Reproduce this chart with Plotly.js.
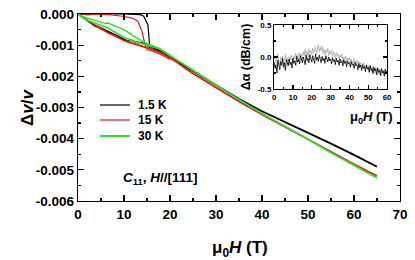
<!DOCTYPE html>
<html><head><meta charset="utf-8">
<script src="https://cdn.plot.ly/plotly-3.0.1.min.js"></script>
<style>html,body{margin:0;padding:0;background:#fff}</style>
</head><body><div id="plot" style="width:415px;height:260px"></div>
<script>
// ---- main panel data: field (T) and Δv/v ----
const seriesNames = ['1.5 K', '15 K', '30 K'];
const seriesColors = ['#000000', '#ee1111', '#2ee02e'];

const h_black_up = [0, 2, 5, 8, 10, 12, 13.5, 14.3, 14.8, 15.2, 15.4, 15.6, 16, 17, 18, 20];
const v_black_up = [0, -0.00002, 0, 0.00001, 0, -0.00001, -0.00002, -0.00007, -0.0002, -0.00035, -0.0007, -0.0011, -0.00113, -0.00117, -0.00124, -0.0014];
const h_black_dn = [0, 0.5, 1, 2, 3, 3.7, 5, 6.5, 8, 9, 10.2, 10.9, 11.3, 12.5, 13.9, 15, 16, 17.4, 18.5, 20, 25, 30, 35, 40, 45, 50, 55, 60, 65];
const v_black_dn = [0, -0.00005, -0.0001, -0.0002, -0.00031, -0.00038, -0.00045, -0.00055, -0.00066, -0.00074, -0.00083, -0.00089, -0.00083, -0.0009, -0.00093, -0.001, -0.00107, -0.00115, -0.00125, -0.00138, -0.00183, -0.00228, -0.00273, -0.00312, -0.00346, -0.0038, -0.00416, -0.00452, -0.0049];

const h_red_up = [0, 3, 7, 10, 11.8, 13, 13.9, 14.6, 15, 16, 18, 20];
const v_red_up = [0, -0.00001, -0.00002, -0.00008, -0.00013, -0.00023, -0.00055, -0.001, -0.00115, -0.00118, -0.0013, -0.00146];
const h_red_dn = [0, 1, 2, 3, 5, 6.5, 8, 10, 12, 13.9, 16, 18.3, 21, 25, 30, 35, 40, 45, 50, 55, 60, 65];
const v_red_dn = [0, -0.0001, -0.0002, -0.0003, -0.00047, -0.0006, -0.0007, -0.00085, -0.00095, -0.00103, -0.00113, -0.00126, -0.0015, -0.00191, -0.00236, -0.00281, -0.00322, -0.00362, -0.00403, -0.00444, -0.00482, -0.0052];

const h_green_up = [0, 1, 2.5, 3.7, 5, 5.9, 6.5, 7.5, 8.7, 10, 11.8, 13, 13.9, 16, 17.8, 20];
const v_green_up = [0, -0.00008, -0.00015, -0.0002, -0.00026, -0.0003, -0.00029, -0.00035, -0.0004, -0.0005, -0.00068, -0.0008, -0.00087, -0.001, -0.00111, -0.00132];
const h_green_dn = [0, 1, 2, 3.7, 5, 6.5, 8, 10.2, 12, 13.9, 16, 17.8, 20, 25, 30, 35, 40, 45, 50, 55, 60, 65];
const v_green_dn = [0, -0.00012, -0.0002, -0.0003, -0.00037, -0.00045, -0.00058, -0.00077, -0.00087, -0.00095, -0.00103, -0.00112, -0.00133, -0.0018, -0.00228, -0.00275, -0.00319, -0.0036, -0.00402, -0.00445, -0.00485, -0.00526];

const yTickVals = [0, -0.001, -0.002, -0.003, -0.004, -0.005, -0.006];
const yTickText = ['0.000', '-0.001', '-0.002', '-0.003', '-0.004', '-0.005', '-0.006'];

// ---- inset data: field (T) and Δα (dB/cm) ----
const h_inset = [0,0.5,1,1.5,2,2.5,3,3.5,4,4.5,5,5.5,6,6.5,7,7.5,8,8.5,9,9.5,
  10,10.5,11,11.5,12,12.5,13,13.5,14,14.5,15,15.5,16,16.5,17,17.5,18,18.5,19,19.5,
  20,20.5,21,21.5,22,22.5,23,23.5,24,24.5,25,25.5,26,26.5,27,27.5,28,28.5,29,29.5,
  30,30.5,31,31.5,32,32.5,33,33.5,34,34.5,35,35.5,36,36.5,37,37.5,38,38.5,39,39.5,
  40,40.5,41,41.5,42,42.5,43,43.5,44,44.5,45,45.5,46,46.5,47,47.5,48,48.5,49,49.5,
  50,50.5,51,51.5,52,52.5,53,53.5,54,54.5,55,55.5,56,56.5,57,57.5,58,58.5,59,59.5,60];
const a_black = [
  -0.08,-0.18,-0.12,-0.25,-0.05,-0.15,-0.20,-0.07,-0.13,-0.02,
  -0.16,-0.09,-0.21,-0.04,-0.11,-0.14,-0.03,-0.12,-0.08,-0.17,
  -0.02,-0.10,-0.06,-0.13,0.01,-0.08,-0.04,-0.11,0.02,-0.07,
  -0.09,0.00,-0.05,-0.12,0.03,-0.06,-0.02,-0.09,0.04,-0.04,
  -0.08,0.02,-0.03,-0.10,0.05,-0.05,0.00,-0.07,0.03,-0.04,
  -0.09,0.01,-0.06,-0.02,-0.10,0.02,-0.05,-0.08,0.00,-0.06,
  -0.03,-0.11,-0.01,-0.07,-0.04,-0.12,-0.02,-0.08,-0.05,-0.13,
  -0.03,-0.09,-0.06,-0.14,-0.04,-0.10,-0.07,-0.15,-0.06,-0.11,
  -0.09,-0.16,-0.07,-0.13,-0.11,-0.18,-0.08,-0.14,-0.12,-0.20,
  -0.10,-0.17,-0.13,-0.21,-0.12,-0.18,-0.15,-0.23,-0.13,-0.19,
  -0.16,-0.24,-0.14,-0.21,-0.18,-0.26,-0.16,-0.22,-0.19,-0.28,
  -0.17,-0.24,-0.21,-0.29,-0.18,-0.25,-0.22,-0.30,-0.19,-0.24,
  -0.22];
const a_grey = [
  -0.04,0.03,-0.10,-0.02,0.05,-0.08,-0.13,0.00,-0.06,0.02,
  -0.11,-0.03,0.04,-0.07,-0.01,-0.12,0.01,-0.05,0.03,-0.04,
  -0.08,0.02,-0.03,0.06,-0.02,0.04,-0.06,0.07,0.00,0.05,
  -0.03,0.08,0.02,0.12,0.03,0.09,-0.01,0.13,0.06,0.10,
  0.04,0.14,0.07,0.11,0.16,0.05,0.13,0.19,0.08,0.15,
  0.10,0.17,0.06,0.12,0.03,0.11,0.07,0.14,0.02,0.09,
  0.05,0.11,0.00,0.08,0.04,-0.02,0.07,0.01,0.05,-0.04,
  0.03,-0.01,0.05,-0.06,0.00,-0.03,0.02,-0.08,-0.02,-0.05,
  -0.01,-0.09,-0.03,-0.06,-0.11,-0.02,-0.08,-0.13,-0.05,-0.10,
  -0.07,-0.15,-0.09,-0.12,-0.17,-0.08,-0.14,-0.19,-0.11,-0.16,
  -0.13,-0.20,-0.12,-0.18,-0.23,-0.14,-0.19,-0.25,-0.16,-0.21,
  -0.18,-0.27,-0.20,-0.23,-0.29,-0.19,-0.24,-0.21,-0.28,-0.22,
  -0.25];
const insetColors = ['#000000', '#aaaaaa'];
const insetYVals = [-0.5, 0, 0.5];
const insetYText = ['-0.5', '0.0', '0.5'];

const FONT = 'Liberation Sans, Arial, sans-serif';
function line(x, y, color, name, w) {
  return {x: x, y: y, type: 'scatter', mode: 'lines', name: name,
    showlegend: false, line: {color: color, width: w}, hoverinfo: 'skip'};
}
const traces = [
  line(h_black_up, v_black_up, seriesColors[0], seriesNames[0], 1.2),
  line(h_black_dn, v_black_dn, seriesColors[0], seriesNames[0], 1.8),
  line(h_red_up, v_red_up, seriesColors[1], seriesNames[1], 1.2),
  line(h_red_dn, v_red_dn, seriesColors[1], seriesNames[1], 1.8),
  line(h_green_up, v_green_up, seriesColors[2], seriesNames[2], 1.4),
  line(h_green_dn, v_green_dn, seriesColors[2], seriesNames[2], 1.8),
  {x: h_inset, y: a_grey, xaxis: 'x2', yaxis: 'y2', type: 'scatter', mode: 'lines', showlegend: false,
   line: {color: insetColors[1], width: 0.8}, hoverinfo: 'skip'},
  {x: h_inset, y: a_black, xaxis: 'x2', yaxis: 'y2', type: 'scatter', mode: 'lines', showlegend: false,
   line: {color: insetColors[0], width: 0.8}, hoverinfo: 'skip'}
];

// manual legend (positions in paper coords)
const legX0 = (100 - 78) / 322, legX1 = (130 - 78) / 322, legTX = (136 - 78) / 322;
const legY = [105, 120, 136].map(p => (201 - p) / 187);
const shapes = [], annotations = [];
seriesNames.forEach((n, i) => {
  shapes.push({type: 'line', xref: 'paper', yref: 'paper', x0: legX0, x1: legX1, y0: legY[i], y1: legY[i],
    line: {color: seriesColors[i], width: i === 2 ? 2 : 1.2}});
  annotations.push({xref: 'paper', yref: 'paper', x: legTX, y: legY[i], xanchor: 'left', yanchor: 'middle',
    text: '<b>' + n + '</b>', showarrow: false, font: {family: FONT, size: 12, color: '#000'}});
});
annotations.push({xref: 'paper', yref: 'paper', x: (160 - 78) / 322, y: (201 - 178) / 187, xanchor: 'center', yanchor: 'middle',
  text: '<b><i>C</i><sub>11</sub>, <i>H</i>//[111]</b>', showarrow: false, font: {family: FONT, size: 13.5, color: '#000'}});
annotations.push({xref: 'paper', yref: 'paper', x: (371 - 78) / 322, y: (201 - 117) / 187, xanchor: 'center', yanchor: 'middle',
  text: '<b>μ<sub>0</sub><i>H</i> (T)</b>', showarrow: false, font: {family: FONT, size: 13, color: '#000'}});
// main axis titles
annotations.push({xref: 'paper', yref: 'paper', x: (240 - 78) / 322, y: (201 - 249) / 187, xanchor: 'center', yanchor: 'middle',
  text: '<b>μ<sub>0</sub><i>H</i> (T)</b>', showarrow: false, font: {family: FONT, size: 17, color: '#000'}});
annotations.push({xref: 'paper', yref: 'paper', x: (27 - 78) / 322, y: (201 - 108) / 187, xanchor: 'center', yanchor: 'middle',
  textangle: -90, text: '<b>Δ<i>v</i>/<i>v</i></b>', showarrow: false, font: {family: FONT, size: 17, color: '#000'}});

const axisCommon = {showgrid: false, zeroline: false, showline: true, linecolor: '#000', linewidth: 1.3,
  ticks: 'inside', mirror: 'allticks', tickcolor: '#000', tickwidth: 1.2, fixedrange: true};

const layout = {
  width: 415, height: 260,
  margin: {l: 78, r: 15, t: 14, b: 59},
  paper_bgcolor: '#fff', plot_bgcolor: '#fff',
  font: {family: FONT, color: '#000'},
  showlegend: false,
  xaxis: Object.assign({}, axisCommon, {range: [0, 70], dtick: 10, tick0: 0, ticklen: 6,
    minor: {dtick: 5, ticklen: 3, ticks: 'inside', tickcolor: '#000'},
    tickfont: {family: FONT, size: 13.5, weight: 'bold'}}),
  yaxis: Object.assign({}, axisCommon, {range: [-0.006, 0], tickvals: yTickVals, ticktext: yTickText, ticklen: 6,
    minor: {dtick: 0.0005, ticklen: 3, ticks: 'inside', tickcolor: '#000'},
    tickfont: {family: FONT, size: 13.5, weight: 'bold'}}),
  xaxis2: Object.assign({}, axisCommon, {domain: [0.609, 0.960], anchor: 'y2', range: [0, 60], dtick: 10, tick0: 0,
    ticklen: 4, linewidth: 1, minor: {dtick: 5, ticklen: 2, ticks: 'inside', tickcolor: '#000'},
    tickfont: {family: FONT, size: 8, weight: 'bold'}}),
  yaxis2: Object.assign({}, axisCommon, {domain: [0.599, 0.941], anchor: 'x2', range: [-0.5, 0.5],
    tickvals: insetYVals, ticktext: insetYText, ticklen: 4, linewidth: 1,
    minor: {dtick: 0.25, ticklen: 2, ticks: 'inside', tickcolor: '#000'},
    tickfont: {family: FONT, size: 8, weight: 'bold'},
    title: {text: '<b>Δα (dB/cm)</b>', font: {family: FONT, size: 12.5}, standoff: 4}}),
  shapes: shapes,
  annotations: annotations
};
Plotly.newPlot('plot', traces, layout, {displayModeBar: false, staticPlot: true});
</script></body></html>
